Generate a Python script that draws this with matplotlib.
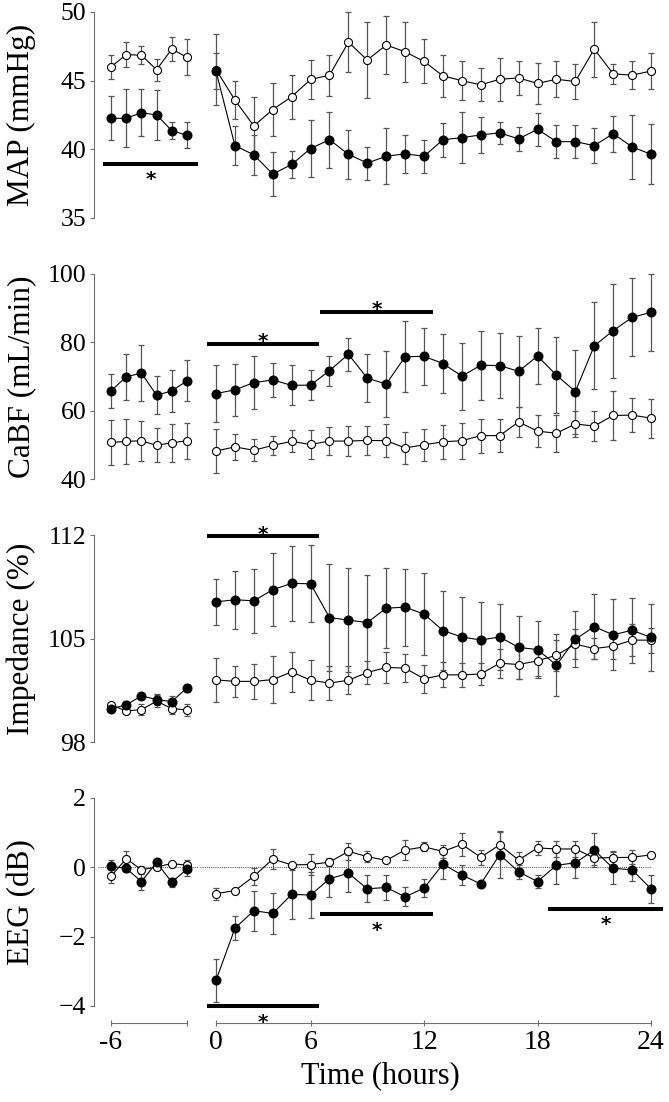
import numpy as np
import matplotlib
matplotlib.use('Agg')
import matplotlib.pyplot as plt

plt.rcParams['font.family'] = ['Liberation Serif', 'DejaVu Serif']

W, H = 669, 1102

# x positions: six baseline samples, then 24 samples after the start
base_hours = [-6, -5, -4, -3, -2, -1]
main_idx = np.arange(24)
main_ticks = [0, 5, 11, 17, 23]
main_ticklabels = ['0', '6', '12', '18', '24']

# MAP (mmHg)
map_open_base = [46.0, 46.9, 46.85, 45.8, 47.3, 46.7]
map_open_base_err = [0.9, 0.93, 0.67, 0.8, 0.85, 1.3]
map_closed_base = [42.26, 42.26, 42.67, 42.5, 41.36, 41.02]
map_closed_base_err = [1.6, 2.1, 1.7, 1.85, 0.6, 0.95]
map_open = [45.8, 43.59, 41.7, 42.9, 43.83, 45.09, 45.4, 47.8, 46.5, 47.6, 47.1, 46.4,
            45.35, 45.0, 44.7, 45.1, 45.2, 44.8, 45.1, 44.94, 47.3, 45.5, 45.4, 45.7]
map_open_err = [2.6, 1.4, 2.1, 1.9, 1.6, 1.45, 1.5, 2.2, 2.75, 2.1, 2.2, 1.6,
                1.55, 1.4, 1.2, 1.55, 1.25, 1.5, 1.3, 1.25, 2.0, 0.75, 1.0, 1.3]
map_closed = [45.7, 40.27, 39.6, 38.2, 38.9, 40.06, 40.7, 39.64, 39.0, 39.5, 39.67, 39.5,
              40.7, 40.85, 41.05, 41.2, 40.76, 41.46, 40.56, 40.56, 40.27, 41.14, 40.18, 39.64]
map_closed_err = [1.3, 1.4, 1.45, 1.6, 1.0, 2.1, 2.05, 1.8, 1.2, 2.05, 1.4, 1.2,
                  1.25, 1.85, 1.3, 0.8, 0.9, 1.2, 1.2, 1.2, 1.25, 1.3, 2.35, 2.2]

# CaBF (mL/min)
cabf_open_base = [50.7, 51.0, 51.2, 49.85, 50.6, 51.2]
cabf_open_base_err = [6.7, 6.6, 5.9, 5.0, 5.6, 5.2]
cabf_closed_base = [65.8, 69.9, 71.0, 64.5, 65.8, 68.7]
cabf_closed_base_err = [5.0, 6.7, 8.1, 5.6, 6.1, 6.0]
cabf_open = [48.2, 49.4, 48.4, 49.85, 51.0, 50.1, 51.1, 51.1, 51.3, 51.2, 49.1, 50.0,
             50.9, 51.2, 52.7, 52.7, 56.7, 54.0, 53.4, 56.1, 55.5, 58.6, 58.7, 57.8]
cabf_open_err = [6.4, 3.85, 3.2, 2.7, 3.2, 4.1, 4.2, 4.4, 4.35, 4.8, 4.6, 4.7,
                 5.05, 5.3, 5.0, 4.9, 4.3, 4.6, 5.4, 3.9, 4.4, 7.1, 4.9, 5.7]
cabf_closed = [65.0, 66.1, 68.2, 69.0, 67.4, 67.5, 71.7, 76.5, 69.5, 67.8, 75.8, 75.9,
               73.8, 70.1, 73.3, 73.2, 71.5, 76.0, 70.4, 65.6, 79.0, 83.4, 87.3, 88.8]
cabf_closed_err = [8.3, 7.7, 7.8, 5.0, 5.85, 4.4, 4.4, 4.8, 7.1, 9.7, 10.3, 8.3,
                   8.6, 9.8, 10.1, 9.4, 10.3, 8.3, 11.1, 12.3, 12.8, 13.7, 11.4, 11.2]

# Impedance (%)
imp_open_base = [100.5, 100.1, 100.19, 100.76, 100.26, 100.17]
imp_open_base_err = [0.1, 0.2, 0.38, 0.4, 0.37, 0.43]
imp_closed_base = [100.26, 100.5, 101.12, 100.87, 100.73, 101.68]
imp_closed_base_err = [0.15, 0.25, 0.2, 0.4, 0.4, 0.27]
imp_open = [102.2, 102.1, 102.1, 102.22, 102.74, 102.18, 101.98, 102.18, 102.7, 103.04, 103.0, 102.27,
            102.54, 102.54, 102.6, 103.33, 103.24, 103.49, 103.87, 104.62, 104.32, 104.48, 104.89, 104.89]
imp_open_err = [1.47, 1.06, 1.2, 1.57, 1.38, 1.35, 1.15, 0.95, 0.8, 1.04, 0.95, 0.95,
                0.85, 0.8, 0.75, 0.98, 1.0, 1.0, 1.05, 1.0, 0.7, 0.9, 1.1, 0.85]
imp_closed = [107.48, 107.62, 107.55, 108.3, 108.73, 108.7, 106.42, 106.24, 106.08, 107.05, 107.12, 106.65,
              105.54, 105.1, 104.9, 105.1, 104.4, 104.25, 103.2, 104.95, 105.8, 105.25, 105.56, 105.07]
imp_closed_err = [1.55, 1.95, 2.15, 2.45, 2.55, 2.6, 3.6, 3.5, 3.2, 2.7, 2.6, 2.75,
                  2.7, 2.7, 2.55, 2.2, 2.15, 1.9, 2.1, 1.9, 2.2, 2.4, 2.2, 2.25]

# EEG (dB)
eeg_open_base = [-0.26, 0.25, -0.07, 0.01, 0.11, 0.06]
eeg_open_base_err = [0.18, 0.22, 0.12, 0.05, 0.05, 0.15]
eeg_closed_base = [0.03, -0.03, -0.41, 0.14, -0.43, -0.05]
eeg_closed_base_err = [0.18, 0.1, 0.24, 0.1, 0.13, 0.2]
eeg_open = [-0.76, -0.67, -0.26, 0.24, 0.07, 0.08, 0.15, 0.46, 0.31, 0.2, 0.5, 0.59,
            0.46, 0.66, 0.29, 0.65, 0.21, 0.56, 0.53, 0.53, 0.27, 0.28, 0.29, 0.36]
eeg_open_err = [0.17, 0.05, 0.24, 0.28, 0.05, 0.3, 0.12, 0.24, 0.17, 0.05, 0.3, 0.13,
                0.19, 0.33, 0.22, 0.37, 0.24, 0.2, 0.22, 0.22, 0.2, 0.2, 0.2, 0.06]
eeg_closed = [-3.26, -1.76, -1.25, -1.33, -0.78, -0.8, -0.33, -0.17, -0.62, -0.58, -0.85, -0.6,
              0.09, -0.22, -0.48, 0.37, -0.13, -0.41, 0.06, 0.13, 0.5, -0.03, -0.07, -0.62]
eeg_closed_err = [0.62, 0.35, 0.58, 0.58, 0.7, 0.67, 0.54, 0.53, 0.39, 0.36, 0.27, 0.27,
                  0.43, 0.3, 0.05, 0.67, 0.2, 0.2, 0.53, 0.43, 0.48, 0.46, 0.31, 0.41]

# significance bars: (x from, x to, y, asterisk above/below)
panels = [
    dict(label='MAP (mmHg)', ylim=(35, 50), yticks=[35, 40, 45, 50], top=12, bottom=218,
         base=(map_open_base, map_open_base_err, map_closed_base, map_closed_base_err),
         main=(map_open, map_open_err, map_closed, map_closed_err),
         sig_base=[(-6.53, -0.28, 38.94, 'below')], sig_main=[]),
    dict(label='CaBF (mL/min)', ylim=(40, 100), yticks=[40, 60, 80, 100], top=274, bottom=479,
         base=(cabf_open_base, cabf_open_base_err, cabf_closed_base, cabf_closed_base_err),
         main=(cabf_open, cabf_open_err, cabf_closed, cabf_closed_err),
         sig_base=[], sig_main=[(-0.5, 5.45, 79.65, 'above'), (5.5, 11.5, 89.0, 'above')]),
    dict(label='Impedance (%)', ylim=(98, 112), yticks=[98, 105, 112], top=535, bottom=742,
         base=(imp_open_base, imp_open_base_err, imp_closed_base, imp_closed_base_err),
         main=(imp_open, imp_open_err, imp_closed, imp_closed_err),
         sig_base=[], sig_main=[(-0.5, 5.45, 111.95, 'above')]),
    dict(label='EEG (dB)', ylim=(-4, 2), yticks=[-4, -2, 0, 2], top=798, bottom=1006,
         base=(eeg_open_base, eeg_open_base_err, eeg_closed_base, eeg_closed_base_err),
         main=(eeg_open, eeg_open_err, eeg_closed, eeg_closed_err),
         sig_base=[], sig_main=[(-0.5, 5.45, -4.0, 'below'), (5.5, 11.5, -1.35, 'below'),
                                (17.55, 23.65, -1.2, 'below')]),
]


def box(left, right, top, bottom):
    return [left / W, 1 - bottom / H, (right - left) / W, (bottom - top) / H]


spine_col = '#6e6e6e'
err_col = '#555555'

fig = plt.figure(figsize=(W / 100, H / 100), dpi=100)

L0, L1 = 94, 198      # baseline axes, pixels
M0, M1 = 200, 669     # main axes, pixels


def draw_series(ax, x, o, oe, c, ce):
    ax.errorbar(x, o, yerr=oe, fmt='none', ecolor=err_col, elinewidth=0.9,
                capsize=2.4, capthick=0.9, clip_on=False, zorder=2)
    ax.errorbar(x, c, yerr=ce, fmt='none', ecolor=err_col, elinewidth=0.9,
                capsize=2.4, capthick=0.9, clip_on=False, zorder=2)
    ax.plot(x, o, '-o', color='black', lw=0.8, mfc='white', mec='black', mew=0.8,
            ms=5.8, clip_on=False, zorder=3)
    ax.plot(x, c, '-o', color='black', lw=0.8, mfc='black', mec='black',
            ms=6.2, clip_on=False, zorder=4)


def sig(ax, x0, x1, y, where):
    ax.plot([x0, x1], [y, y], color='black', lw=2.9, solid_capstyle='butt', clip_on=False, zorder=5)
    dy = -2.8 if where == 'above' else -15.5
    ax.annotate('*', ((x0 + x1) / 2, y), xytext=(0, dy), textcoords='offset points',
                ha='center', va='baseline', fontsize=14.5, fontweight='bold',
                family='DejaVu Sans', annotation_clip=False, zorder=5)


for k, p in enumerate(panels):
    axl = fig.add_axes(box(L0, L1, p['top'], p['bottom']))
    axm = fig.add_axes(box(M0, M1, p['top'], p['bottom']))
    axl.set_xlim(-6 - 17 / 15.2, -1 + 11 / 15.2)
    axm.set_xlim(-16 / 18.9, 23 + 18 / 18.9)
    for ax in (axl, axm):
        ax.set_ylim(*p['ylim'])
        ax.patch.set_visible(False)
        for s in ('top', 'right'):
            ax.spines[s].set_visible(False)
    axm.spines['left'].set_visible(False)
    axm.tick_params(axis='y', left=False, labelleft=False)

    axl.spines['left'].set_color(spine_col)
    axl.spines['left'].set_linewidth(0.8)
    axl.spines['left'].set_bounds(*p['ylim'])
    axl.set_yticks(p['yticks'])
    axl.tick_params(axis='y', direction='out', length=2.6, width=0.8, color=spine_col,
                    labelsize=18.5, pad=3)
    axl.set_ylabel(p['label'], fontsize=22.5)
    axl.yaxis.set_label_coords((36 - L0) / (L1 - L0), 0.5)

    if k < 3:
        for ax in (axl, axm):
            ax.spines['bottom'].set_visible(False)
            ax.tick_params(axis='x', bottom=False, labelbottom=False)
    else:
        axl.set_xticks([-6, -1])
        axl.set_xticklabels(['-6', ''])
        axm.set_xticks(main_ticks)
        axm.set_xticklabels(main_ticklabels)
        axl.spines['bottom'].set_bounds(-6, -1)
        axm.spines['bottom'].set_bounds(0, 23)
        for ax in (axl, axm):
            ax.spines['bottom'].set_position(('outward', 12))
            ax.spines['bottom'].set_color(spine_col)
            ax.spines['bottom'].set_linewidth(0.8)
            ax.tick_params(axis='x', direction='inout', length=5, width=0.8,
                           color=spine_col, labelsize=20, pad=3)
        axm.set_xlabel('Time (hours)', fontsize=22)
        axm.xaxis.set_label_coords((380 - M0) / (M1 - M0), (1006 - 1061) / 208)
        axl.axhline(0, xmin=0.04, xmax=1, color='#444444', lw=0.7, ls=(0, (1, 1.2)), zorder=1)
        axm.hlines(0, axm.get_xlim()[0], 23, color='#444444', lw=0.7, ls=(0, (1, 1.2)), zorder=1)

    draw_series(axl, base_hours, *p['base'])
    draw_series(axm, main_idx, *p['main'])
    for s in p['sig_base']:
        sig(axl, *s)
    for s in p['sig_main']:
        sig(axm, *s)

fig.savefig('out.png', dpi=100)
